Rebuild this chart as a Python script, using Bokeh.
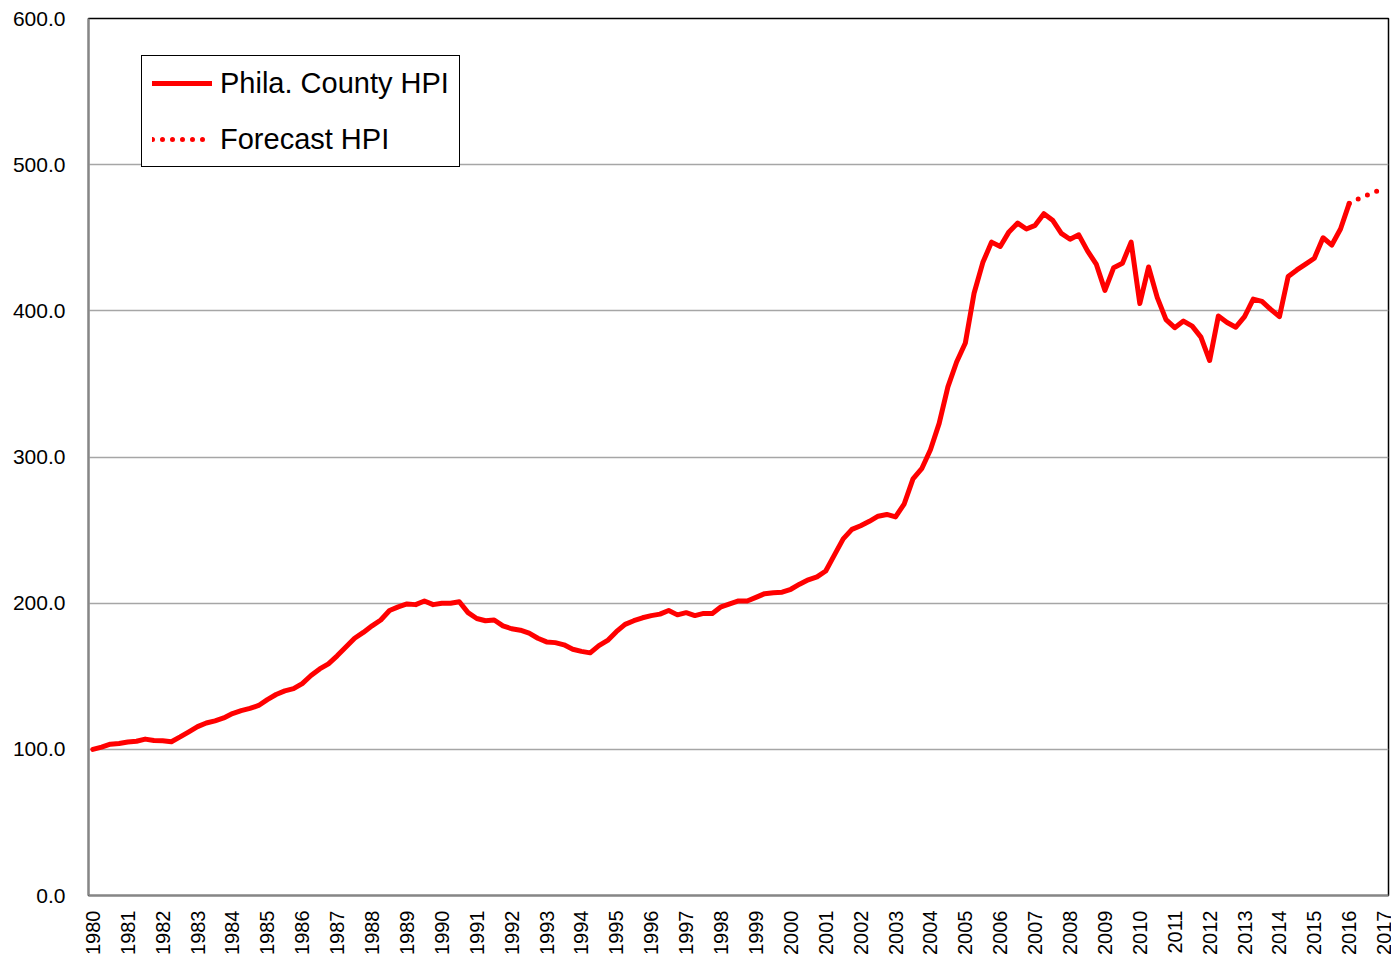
import math
from bokeh.plotting import figure
from bokeh.models import Range1d, FixedTicker, NumeralTickFormatter, Legend, LegendItem
from bokeh.embed import file_html
from bokeh.resources import INLINE

# Quarterly Philadelphia County HPI, starting 1980 Q1
start_year = 1980
hpi = [
    100.0, 101.5, 103.5, 104.0,   # 1980
    105.0, 105.5, 107.0, 106.0,   # 1981
    105.8, 105.2, 108.5, 112.0,   # 1982
    115.5, 118.0, 119.5, 121.5,   # 1983
    124.5, 126.5, 128.0, 130.0,   # 1984
    134.0, 137.5, 140.0, 141.5,   # 1985
    145.0, 150.5, 155.0, 158.5,   # 1986
    164.0, 170.0, 176.0, 180.0,   # 1987
    184.5, 188.5, 195.0, 197.5,   # 1988
    199.5, 199.0, 201.5, 199.0,   # 1989
    200.0, 200.0, 201.0, 193.5,   # 1990
    189.5, 188.0, 188.5, 184.5,   # 1991
    182.5, 181.5, 179.5, 176.0,   # 1992
    173.5, 173.0, 171.5, 168.5,   # 1993
    167.0, 166.0, 171.0, 174.5,   # 1994
    180.5, 185.5, 188.0, 190.0,   # 1995
    191.5, 192.5, 195.0, 192.0,   # 1996
    193.5, 191.5, 193.0, 193.0,   # 1997
    197.5, 199.5, 201.5, 201.5,   # 1998
    204.0, 206.5, 207.2, 207.5,   # 1999
    209.5, 213.0, 216.0, 218.0,   # 2000
    222.0, 233.0, 244.0, 250.5,   # 2001
    253.0, 256.0, 259.5, 260.7,   # 2002
    259.0, 268.0, 285.0, 292.0,   # 2003
    305.0, 323.0, 348.0, 365.0,   # 2004
    378.0, 412.0, 433.0, 447.0,   # 2005
    444.0, 454.0, 460.0, 456.0,   # 2006
    458.5, 466.5, 462.0, 453.0,   # 2007
    449.0, 452.0, 441.0, 432.0,   # 2008
    414.0, 429.5, 432.5, 447.0,   # 2009
    405.0, 430.0, 409.0, 394.0,   # 2010
    388.5, 393.0, 389.5, 382.0,   # 2011
    366.0, 396.5, 392.0, 388.8,   # 2012
    396.0, 408.0, 406.5, 401.0,   # 2013
    396.0, 423.5, 428.0, 432.0,   # 2014
    436.0, 450.0, 445.0, 456.0,   # 2015
    473.5,                        # 2016 Q1
]

# Forecast, starting 2016 Q1
forecast_start = 2016.0
forecast = [473.5, 476.5, 479.0, 481.5, 484.0]

tick_years = list(range(1980, 2018))
y_ticks = [0, 100, 200, 300, 400, 500, 600]
grid_ticks = [100, 200, 300, 400, 500]

x_hist = [start_year + i / 4 for i in range(len(hpi))]
x_fc = [forecast_start + i / 4 for i in range(len(forecast))]

p = figure(width=1391, height=957,
           x_range=Range1d(1979.875, 2017.125), y_range=Range1d(0, 600),
           output_backend="svg", toolbar_location=None,
           min_border_left=88, min_border_right=3,
           min_border_top=18, min_border_bottom=62)

p.outline_line_color = "black"
p.outline_line_width = 1.5
p.outline_line_alpha = 1.0
p.background_fill_color = "white"
p.border_fill_color = "white"

p.xgrid.visible = False
p.ygrid.ticker = FixedTicker(ticks=grid_ticks)
p.ygrid.grid_line_color = "#a6a6a6"
p.ygrid.grid_line_width = 1.5

font = "Liberation Sans"

p.yaxis.ticker = FixedTicker(ticks=y_ticks)
p.yaxis.formatter = NumeralTickFormatter(format="0.0")
p.yaxis.axis_line_color = "#868686"
p.yaxis.axis_line_width = 2
p.yaxis.major_tick_line_color = None
p.yaxis.minor_tick_line_color = None
p.yaxis.major_tick_out = 0
p.yaxis.major_tick_in = 0
p.yaxis.major_label_standoff = 23
p.yaxis.major_label_text_font = font
p.yaxis.major_label_text_font_size = "21px"
p.yaxis.major_label_text_color = "black"

p.xaxis.ticker = FixedTicker(ticks=tick_years)
p.xaxis.axis_line_color = "#868686"
p.xaxis.axis_line_width = 2
p.xaxis.major_tick_line_color = None
p.xaxis.minor_tick_line_color = None
p.xaxis.major_tick_out = 0
p.xaxis.major_tick_in = 0
p.xaxis.major_label_standoff = 15
p.xaxis.major_label_orientation = math.pi / 2
p.xaxis.major_label_text_font = font
p.xaxis.major_label_text_font_size = "20px"
p.xaxis.major_label_text_color = "black"

r1 = p.line(x_hist, hpi, line_color="#FF0000", line_width=5,
            line_join="round", line_cap="round")
r2 = p.line(x_fc, forecast, line_color="#FF0000", line_width=5,
            line_dash="0 10", line_cap="round")

legend = Legend(items=[LegendItem(label="Phila. County HPI", renderers=[r1]),
                       LegendItem(label="Forecast HPI", renderers=[r2])],
                location=(53, 728))
legend.border_line_color = "black"
legend.border_line_alpha = 1.0
legend.border_line_width = 1.3
legend.background_fill_color = "white"
legend.background_fill_alpha = 1.0
legend.padding = 10
legend.spacing = 22
legend.margin = 0
legend.glyph_width = 60
legend.glyph_height = 34
legend.label_height = 34
legend.label_standoff = 8
legend.label_text_font = font
legend.label_text_font_size = "29px"
legend.label_text_color = "black"
p.add_layout(legend)

open("out.html", "w").write(file_html(p, INLINE))
